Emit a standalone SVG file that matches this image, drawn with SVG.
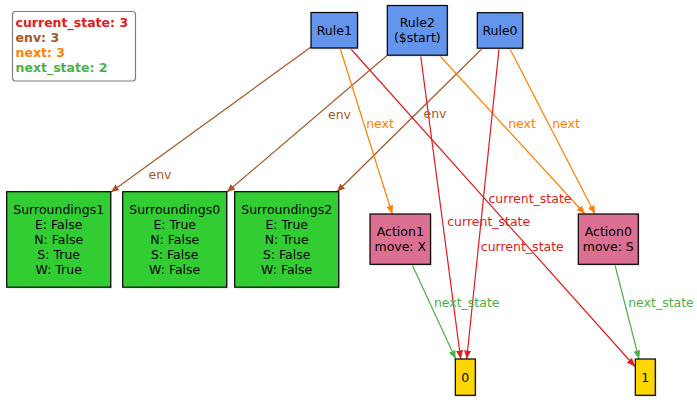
<svg xmlns="http://www.w3.org/2000/svg" width="697" height="404" viewBox="0 0 697 404">
<style>
text{font-family:"DejaVu Sans","Liberation Sans",sans-serif;font-size:12.5px}
.n{stroke:#000;stroke-width:1.2}
.sh{fill:#d8d8d8;stroke:none}
.c{text-anchor:middle;fill:#000}
.rule{fill:#6495ed}
.sur{fill:#32cd32}
.act{fill:#db7093}
.val{fill:#ffd700}
.e{fill:none;stroke-width:1.2}
.env{stroke:#a65628}
.next{stroke:#ff7f00}
.cs{stroke:#e41a1c}
.ns{stroke:#4daf4a}
.lenv{fill:#a65628;text-anchor:middle}
.lnext{fill:#ff7f00;text-anchor:middle}
.lcs{fill:#e41a1c;text-anchor:middle}
.lns{fill:#4daf4a;text-anchor:middle}
.leg{font-weight:bold}
</style>
<defs>
<marker id="aenv" markerWidth="9" markerHeight="8" refX="8.5" refY="3.5" orient="auto" markerUnits="userSpaceOnUse"><path d="M0,0 L8.5,3.5 L0,7 z" fill="#a65628"/></marker>
<marker id="anext" markerWidth="9" markerHeight="8" refX="8.5" refY="3.5" orient="auto" markerUnits="userSpaceOnUse"><path d="M0,0 L8.5,3.5 L0,7 z" fill="#ff7f00"/></marker>
<marker id="acs" markerWidth="9" markerHeight="8" refX="8.5" refY="3.5" orient="auto" markerUnits="userSpaceOnUse"><path d="M0,0 L8.5,3.5 L0,7 z" fill="#e41a1c"/></marker>
<marker id="ans" markerWidth="9" markerHeight="8" refX="8.5" refY="3.5" orient="auto" markerUnits="userSpaceOnUse"><path d="M0,0 L8.5,3.5 L0,7 z" fill="#4daf4a"/></marker>
</defs>
<rect width="697" height="404" fill="#fff"/>
<g id="legend">
<rect x="12.5" y="11.5" width="123" height="69.5" rx="3" fill="#fff" stroke="#808080" stroke-width="1.2"/>
<text class="leg" x="15.5" y="27" fill="#e41a1c">current_state: 3</text>
<text class="leg" x="15.5" y="42" fill="#a65628">env: 3</text>
<text class="leg" x="15.5" y="57" fill="#ff7f00">next: 3</text>
<text class="leg" x="15.5" y="72" fill="#4daf4a">next_state: 2</text>
</g>
<g id="connectors">
<line class="e env" x1="311" y1="47" x2="110.7" y2="192.3" marker-end="url(#aenv)"/>
<line class="e env" x1="387" y1="55.5" x2="226.7" y2="192.3" marker-end="url(#aenv)"/>
<line class="e env" x1="481.7" y1="49" x2="336.7" y2="192" marker-end="url(#aenv)"/>
<line class="e next" x1="340" y1="48" x2="392.3" y2="214" marker-end="url(#anext)"/>
<line class="e next" x1="440" y1="56" x2="585" y2="214" marker-end="url(#anext)"/>
<line class="e next" x1="510" y1="49" x2="595" y2="214" marker-end="url(#anext)"/>
<line class="e cs" x1="350" y1="48" x2="635" y2="366.5" marker-end="url(#acs)"/>
<line class="e cs" x1="420.7" y1="56" x2="460.7" y2="359" marker-end="url(#acs)"/>
<line class="e cs" x1="499" y1="49" x2="466.7" y2="359" marker-end="url(#acs)"/>
<line class="e ns" x1="412.3" y1="265" x2="455.7" y2="359" marker-end="url(#ans)"/>
<line class="e ns" x1="615" y1="265" x2="639" y2="359" marker-end="url(#ans)"/>
<text class="lenv" x="160" y="179">env</text>
<text class="lenv" x="339.5" y="119">env</text>
<text class="lenv" x="435" y="118">env</text>
<text class="lnext" x="380" y="128">next</text>
<text class="lnext" x="522" y="128">next</text>
<text class="lnext" x="566" y="128">next</text>
<text class="lcs" x="530" y="203">current_state</text>
<text class="lcs" x="488.7" y="225.5">current_state</text>
<text class="lcs" x="522.3" y="250.5">current_state</text>
<text class="lns" x="466.7" y="307">next_state</text>
<text class="lns" x="661" y="307">next_state</text>
</g>
<g id="Rule1">
<rect class="sh" x="312.5" y="14" width="46.5" height="35.5"/>
<rect class="n rule" x="311" y="12.5" width="46.5" height="35.5"/>
<text class="c" x="334.3" y="34.7">Rule1</text>
</g>
<g id="Rule2">
<rect class="sh" x="388.5" y="6.8" width="60" height="49.7"/>
<rect class="n rule" x="387.3" y="5.5" width="60" height="49.7"/>
<text class="c" x="417.3" y="27.3">Rule2</text>
<text class="c" x="417.3" y="42.3">($start)</text>
</g>
<g id="Rule0">
<rect class="sh" x="478.6" y="14" width="45.4" height="35.5"/>
<rect class="n rule" x="477.3" y="12.7" width="45.4" height="35.5"/>
<text class="c" x="500" y="34.7">Rule0</text>
</g>
<g id="Surroundings1">
<rect class="sh" x="8" y="193" width="104" height="95.5"/>
<rect class="n sur" x="6.7" y="191.7" width="104" height="95.5"/>
<text class="c" x="58.7" y="214">Surroundings1</text>
<text class="c" x="58.7" y="229">E: False</text>
<text class="c" x="58.7" y="244">N: False</text>
<text class="c" x="58.7" y="259">S: True</text>
<text class="c" x="58.7" y="274">W: True</text>
</g>
<g id="Surroundings0">
<rect class="sh" x="124" y="193" width="104" height="95.5"/>
<rect class="n sur" x="122.7" y="191.7" width="104" height="95.5"/>
<text class="c" x="174.7" y="214">Surroundings0</text>
<text class="c" x="174.7" y="229">E: True</text>
<text class="c" x="174.7" y="244">N: False</text>
<text class="c" x="174.7" y="259">S: False</text>
<text class="c" x="174.7" y="274">W: False</text>
</g>
<g id="Surroundings2">
<rect class="sh" x="236" y="193" width="104" height="95.5"/>
<rect class="n sur" x="234.7" y="191.7" width="104" height="95.5"/>
<text class="c" x="286.7" y="214">Surroundings2</text>
<text class="c" x="286.7" y="229">E: True</text>
<text class="c" x="286.7" y="244">N: True</text>
<text class="c" x="286.7" y="259">S: False</text>
<text class="c" x="286.7" y="274">W: False</text>
</g>
<g id="Action1">
<rect class="sh" x="371.3" y="215.3" width="60.5" height="50.3"/>
<rect class="n act" x="370" y="214" width="60.5" height="50.3"/>
<text class="c" x="400.3" y="236">Action1</text>
<text class="c" x="400.3" y="251">move: X</text>
</g>
<g id="Action0">
<rect class="sh" x="579.6" y="215.3" width="60" height="50.3"/>
<rect class="n act" x="578.3" y="214" width="60" height="50.3"/>
<text class="c" x="608.3" y="236">Action0</text>
<text class="c" x="608.3" y="251">move: S</text>
</g>
<g id="v0">
<rect class="sh" x="456.6" y="360.3" width="20" height="36.3"/>
<rect class="n val" x="455.3" y="359" width="20" height="36.3"/>
<text class="c" x="465.3" y="382.3">0</text>
</g>
<g id="v1">
<rect class="sh" x="636.6" y="360.3" width="20" height="36.3"/>
<rect class="n val" x="635.3" y="359" width="20" height="36.3"/>
<text class="c" x="645.3" y="382.3">1</text>
</g>
</svg>
